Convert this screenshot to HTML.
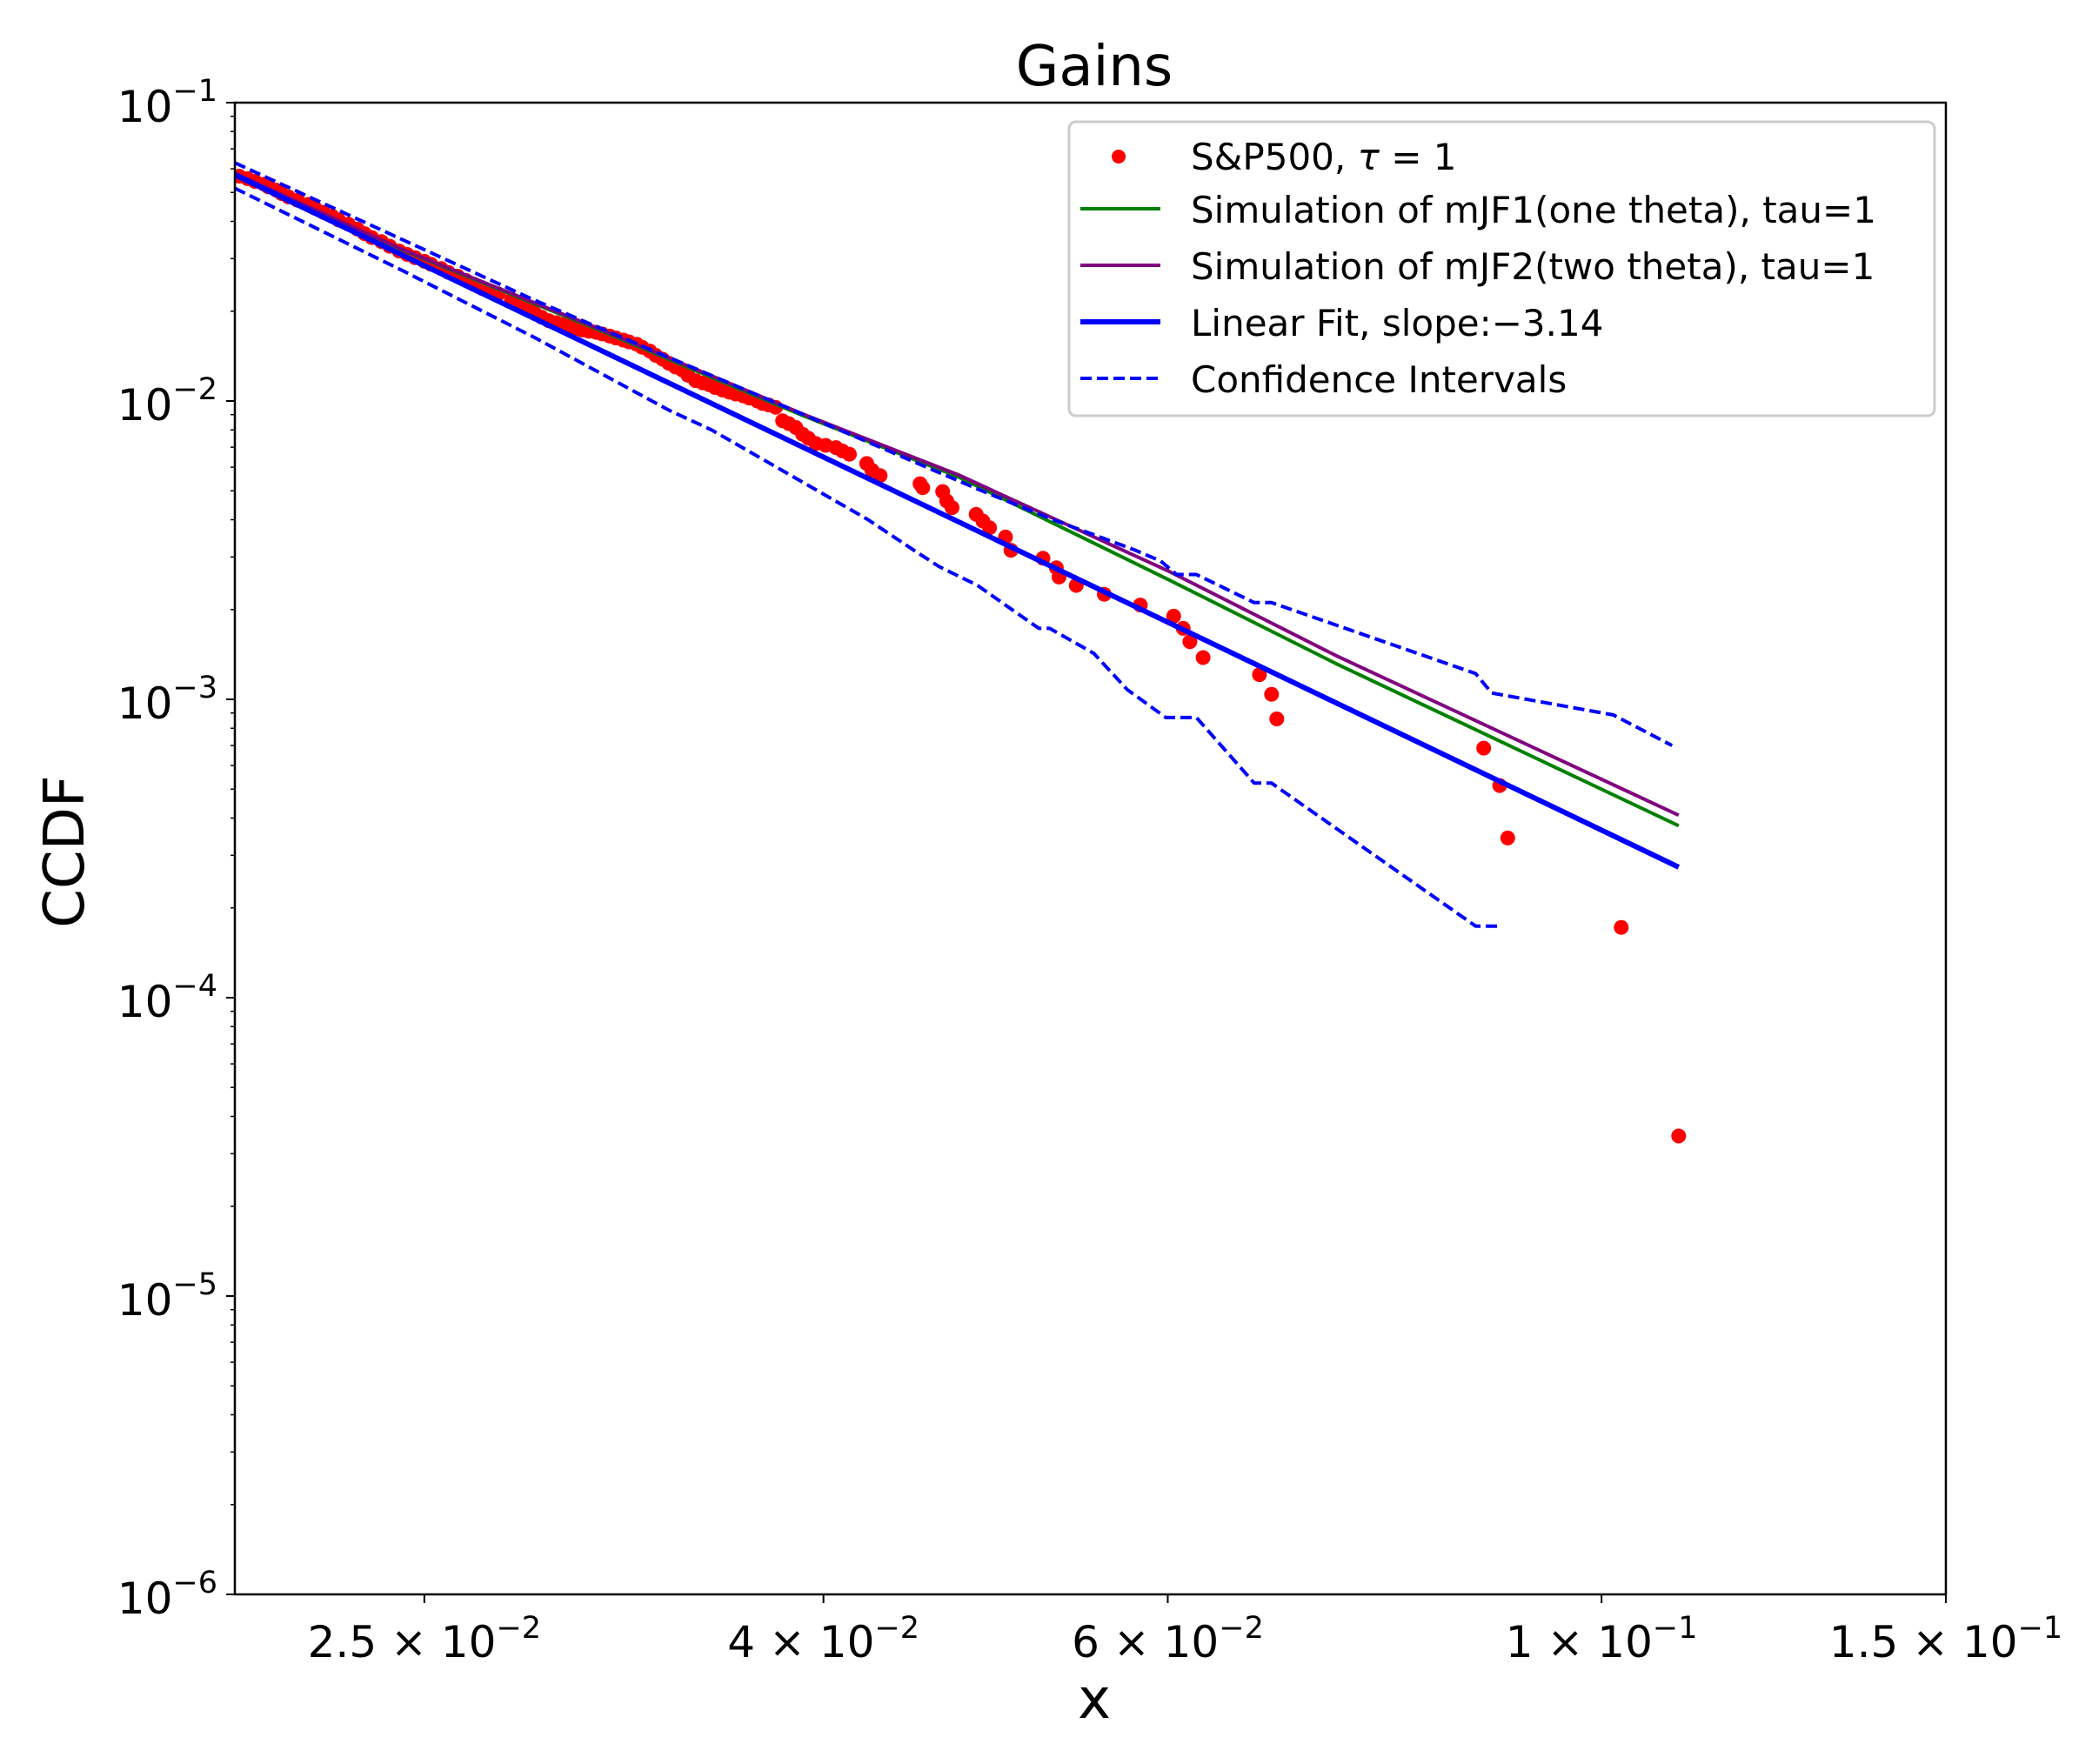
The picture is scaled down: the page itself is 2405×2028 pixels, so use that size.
<!DOCTYPE html>
<html><head><meta charset="utf-8"><style>
html,body{margin:0;padding:0;background:#fff;}
svg{display:block;font-family:"DejaVu Sans","Liberation Sans",sans-serif;}
</style></head><body>
<svg id="chart" width="2405" height="2028" viewBox="0 0 2405 2028" xmlns="http://www.w3.org/2000/svg">
<rect width="2405" height="2028" fill="#fff"/>
<text x="1258" y="98" font-size="64" text-anchor="middle">Gains</text>
<text x="1258" y="1975" font-size="64" text-anchor="middle">x</text>
<text x="0" y="0" font-size="64" text-anchor="middle" transform="translate(96,979) rotate(-90)">CCDF</text>
<g id="plot"></g>
<g id="legend">
  <rect x="1229" y="140" width="995" height="338" rx="8" fill="#fff" fill-opacity="0.8" stroke="#cccccc" stroke-width="3"/>
  <circle cx="1286" cy="180" r="8" fill="#ff0000"/>
  <text x="1369" y="195" font-size="42">S&amp;P500, <tspan font-style="italic">τ</tspan> = 1</text>
  <line x1="1242" y1="240" x2="1334" y2="240" stroke="#008000" stroke-width="4"/>
  <text x="1369" y="256" font-size="42">Simulation of mJF1(one theta), tau=1</text>
  <line x1="1242" y1="305" x2="1334" y2="305" stroke="#800080" stroke-width="4"/>
  <text x="1369" y="321" font-size="42">Simulation of mJF2(two theta), tau=1</text>
  <line x1="1242" y1="370" x2="1334" y2="370" stroke="#0000ff" stroke-width="6"/>
  <text x="1369" y="386" font-size="42">Linear Fit, slope:−3.14</text>
  <line x1="1242" y1="435" x2="1334" y2="435" stroke="#0000ff" stroke-width="4" stroke-dasharray="13,6"/>
  <text x="1369" y="451" font-size="42">Confidence Intervals</text>
</g>
</svg>
<script>
const spX = [0.0201,0.0203,0.02048,0.0207,0.0208,0.021,0.02113,0.0213,0.02153,0.0218,0.02198,0.0222,0.02243,0.0226,0.02286,0.0231,0.0233,0.0235,0.02377,0.024,0.02427,0.0245,0.02473,0.025,0.0252,0.0255,0.02572,0.026,0.02625,0.0265,0.02676,0.027,0.02727,0.0277,0.02805,0.0283,0.02849,0.0287,0.02894,0.0292,0.02941,0.0296,0.02987,0.0301,0.03034,0.0306,0.03082,0.0311,0.03132,0.0316,0.03181,0.0321,0.03231,0.0326,0.03283,0.0331,0.03334,0.0336,0.03387,0.0341,0.03441,0.0347,0.03496,0.0352,0.03551,0.0358,0.03607,0.0364,0.03665,0.037,0.03723,0.0375,0.03781,0.03812,0.0384,0.03872,0.03903,0.0393,0.03964,0.0401,0.04059,0.0409,0.04124,0.04209,0.04235,0.04276,0.04482,0.04496,0.04603,0.04625,0.04654,0.04788,0.04826,0.04864,0.04956,0.04988,0.0518,0.05262,0.05279,0.05387,0.05568,0.05809,0.06042,0.0611,0.06158,0.06255,0.06684,0.0678,0.06822,0.08704,0.0887,0.08954,0.10234,0.1095];
const spY = [0.05671,0.0556,0.05442,0.0533,0.05222,0.0509,0.04959,0.0483,0.0471,0.0456,0.04428,0.0429,0.04161,0.0404,0.03911,0.0377,0.03638,0.0353,0.0342,0.0330,0.03182,0.0310,0.03021,0.0294,0.0287,0.0278,0.02698,0.0262,0.02535,0.0246,0.02383,0.0233,0.02287,0.0219,0.02106,0.0203,0.01959,0.0191,0.0186,0.0183,0.01804,0.0178,0.01749,0.0173,0.01713,0.0170,0.01678,0.0165,0.01627,0.0160,0.01578,0.0155,0.01514,0.0147,0.01423,0.0138,0.01338,0.0130,0.01271,0.0122,0.0117,0.0115,0.01134,0.0111,0.01088,0.0107,0.01055,0.0104,0.01023,0.0100,0.00981,0.0097,0.00952,0.00858,0.0084,0.00815,0.00774,0.0075,0.0072,0.0071,0.00698,0.0068,0.00663,0.00617,0.00586,0.00562,0.00528,0.00512,0.00497,0.00462,0.00439,0.00417,0.00396,0.00376,0.0035,0.00316,0.00297,0.00276,0.00257,0.00241,0.00225,0.00207,0.0019,0.00173,0.00156,0.00138,0.00121,0.00104,0.00086,0.000686,0.000514,0.000343,0.000172,0.0000344];
const simX = [0.02,0.02433,0.03082,0.03903,0.0469,0.06012,0.07322,0.1095];
const mjf1Y = [0.0579,0.03215,0.01713,0.00894,0.00556,0.00251,0.001313,0.000377];
const mjf2Y = [0.0580,0.0323,0.0173,0.00905,0.00565,0.00268,0.001397,0.000409];
const fitX = [0.02,0.1095];
const fitY = [0.0573,0.000274];
const ciUpX = [0.02,0.02849,0.04216,0.04796,0.05221,0.05755,0.05949,0.06063,0.06206,0.06643,0.0678,0.08622,0.08787,0.10138,0.10865];
const ciUpY = [0.06286,0.02172,0.00728,0.00507,0.00404,0.00319,0.00291,0.00262,0.00262,0.00211,0.00211,0.00122,0.00105,0.000887,0.0007];
const ciLoX = [0.02,0.02439,0.02849,0.03334,0.03507,0.04216,0.0444,0.04582,0.04796,0.04956,0.05155,0.05221,0.05499,0.0572,0.05986,0.06206,0.06643,0.0678,0.08622,0.0887];
const ciLoY = [0.05167,0.02726,0.01627,0.00932,0.00799,0.004,0.00319,0.00279,0.00241,0.00207,0.00173,0.00173,0.001426,0.001079,0.000869,0.000869,0.000524,0.000524,0.0001738,0.0001738];
const xTickVals = [0.025,0.04,0.06,0.1,0.15];
const xTickMant = ["2.5","4","6","1","1.5"];
const xTickExp = ["−2","−2","−2","−1","−1"];
const yTickExps = [-1,-2,-3,-4,-5,-6];

const L=270,R=2237,T=118,B=1833,XMIN=0.02,XMAX=0.15,YMAX=0.1,YMIN=1e-6;
const NS="http://www.w3.org/2000/svg";
function X(v){return L+(Math.log10(v)-Math.log10(XMIN))/(Math.log10(XMAX)-Math.log10(XMIN))*(R-L);}
function Y(v){return T+(Math.log10(YMAX)-Math.log10(v))/(Math.log10(YMAX)-Math.log10(YMIN))*(B-T);}
const plot=document.getElementById('plot');
function mk(tag,attrs,parent){const e=document.createElementNS(NS,tag);for(const k in attrs)e.setAttribute(k,attrs[k]);(parent||plot).appendChild(e);return e;}

const clip=mk('clipPath',{id:'clipArea'});
mk('rect',{x:L,y:T,width:R-L,height:B-T},clip);
const series=mk('g',{'clip-path':'url(#clipArea)'});



function line(xs,ys,color,w,dash,name){
  const d=xs.map((x,i)=>(i?'L':'M')+X(x).toFixed(1)+','+Y(ys[i]).toFixed(1)).join(' ');
  const p=mk('path',{d:d,fill:'none',stroke:color,'stroke-width':w,'stroke-linejoin':'round'},series);
  if(dash)p.setAttribute('stroke-dasharray',dash);
  
  
}
const pts=mk('g',{},series);


spX.forEach((x,i)=>{
  const c=mk('circle',{cx:X(x).toFixed(1),cy:Y(spY[i]).toFixed(1),r:8.5,fill:'#ff0000'},pts);
  
  
});
line(simX,mjf1Y,'#008000',4,null,'mjf1-simulation-line');
line(simX,mjf2Y,'#800080',4,null,'mjf2-simulation-line');
line(fitX,fitY,'#0000ff',6,null,'linear-fit-line');
line(ciUpX,ciUpY,'#0000ff',4,'13,6','ci-upper-line');
line(ciLoX,ciLoY,'#0000ff',4,'13,6','ci-lower-line');

const frame=mk('rect',{x:L,y:T,width:R-L,height:B-T,fill:'none',stroke:'#000','stroke-width':2.5});



xTickVals.forEach((v,i)=>{
  const x=X(v);
  const t=mk('line',{x1:x,y1:B,x2:x,y2:B+10,stroke:'#000','stroke-width':2});
  
  
  const tx=mk('text',{x:x,y:B+72,'font-size':50,'text-anchor':'middle'});
  
  
  tx.innerHTML=xTickMant[i]+' × 10<tspan font-size="35" dy="-22">'+xTickExp[i]+'</tspan>';
});
yTickExps.forEach((e)=>{
  const y=Y(Math.pow(10,e));
  const t=mk('line',{x1:L-10,y1:y,x2:L,y2:y,stroke:'#000','stroke-width':2});
  
  
  const tx=mk('text',{x:L-20,y:y+22,'font-size':50,'text-anchor':'end'});
  
  
  tx.innerHTML='10<tspan font-size="35" dy="-24">−'+Math.abs(e)+'</tspan>';
  if(e>-6){for(let m=2;m<=9;m++){
    const yy=Y(m*Math.pow(10,e-1));
    const mt=mk('line',{x1:L-5,y1:yy,x2:L,y2:yy,stroke:'#000','stroke-width':1.5});
    
    
  }}
});
</script>
</body></html>
